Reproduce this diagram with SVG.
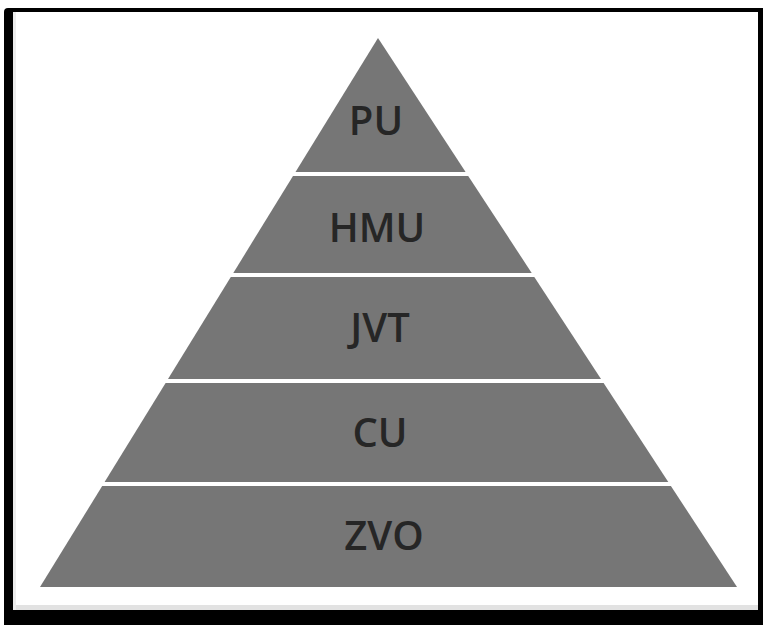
<svg xmlns="http://www.w3.org/2000/svg" width="763" height="625" viewBox="0 0 763 625">
<style>
.layer{fill:#767676;}
.lbl{font-family:"Open Sans","Liberation Sans",sans-serif;font-weight:600;font-size:40px;fill:#262626;text-anchor:middle;}
</style>
<rect x="0" y="0" width="763" height="625" fill="#ffffff"/>
<g id="frame">
<rect x="4" y="8" width="762" height="621" rx="4" fill="#000000"/>
<rect x="13" y="12" width="745" height="598" fill="#ffffff"/>
<rect x="13" y="605" width="745" height="5" fill="#e2e2e2"/>
<rect x="13" y="12" width="3" height="598" fill="#ececec"/>
</g>
<g id="connectors"></g>
<g id="layer-pu">
<polygon class="layer" points="378,38 465.6,172 295.5,172"/>
<text class="lbl" x="376" y="135">PU</text>
</g>
<g id="layer-hmu">
<polygon class="layer" points="293,176 468.2,176 531.7,273 233.3,273"/>
<text class="lbl" x="377" y="242">HMU</text>
</g>
<g id="layer-jvt">
<polygon class="layer" points="230.8,277 534.3,277 601,379 168,379"/>
<text class="lbl" x="380" y="342">JVT</text>
</g>
<g id="layer-cu">
<polygon class="layer" points="165.6,383 603.6,383 668.3,482 104.6,482"/>
<text class="lbl" x="380" y="447">CU</text>
</g>
<g id="layer-zvo">
<polygon class="layer" points="102.2,486 670.9,486 737,587 40,587"/>
<text class="lbl" x="384" y="550">ZVO</text>
</g>
</svg>
